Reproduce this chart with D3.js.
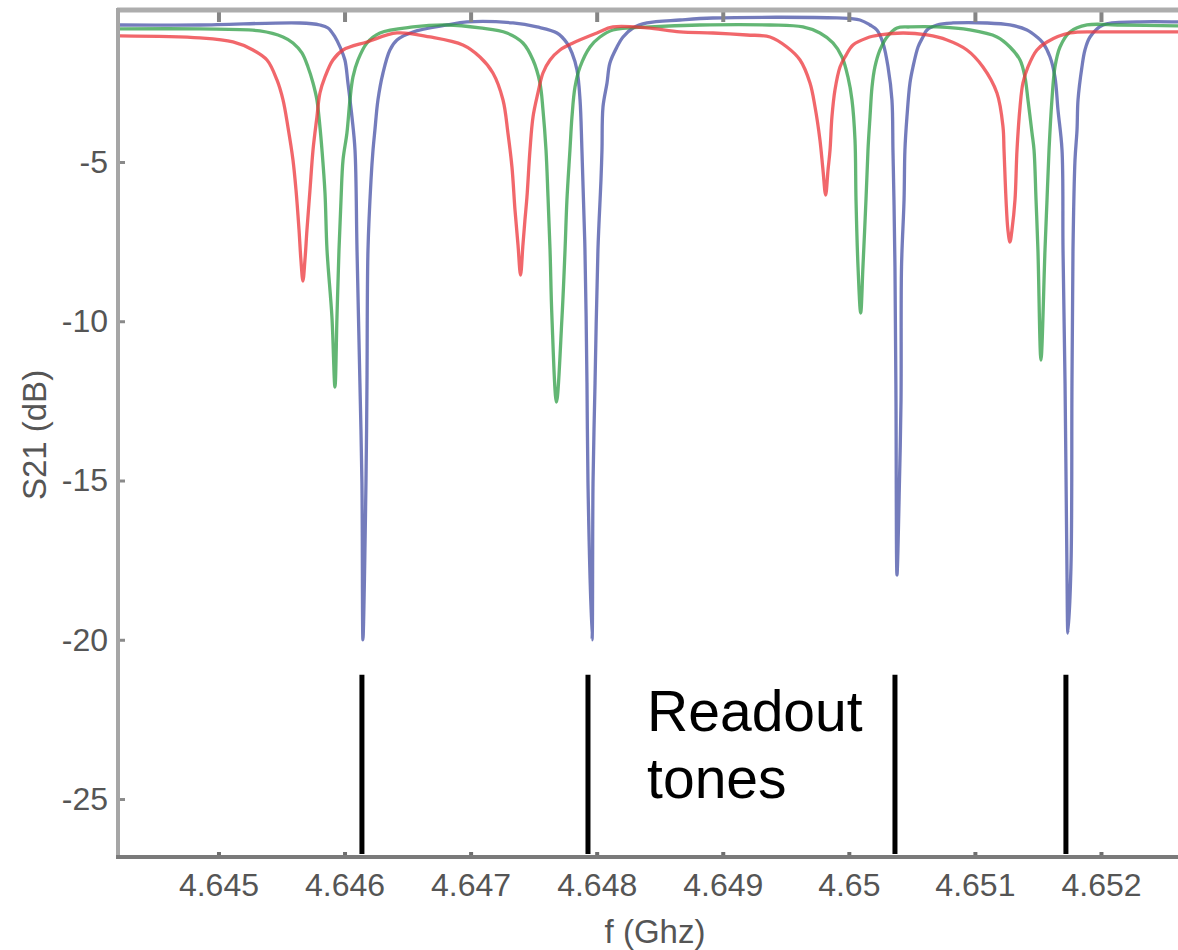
<!DOCTYPE html>
<html>
<head>
<meta charset="utf-8">
<script src="https://cdn.jsdelivr.net/npm/d3@7"></script>
<style>
body { margin: 0; background: #fff; }
svg text { font-family: "Liberation Sans", Arial, Helvetica, sans-serif; }
</style>
</head>
<body>
<div id="graph"></div>
<script>
// axis ticks
var xTicks = [4.645, 4.646, 4.647, 4.648, 4.649, 4.650, 4.651, 4.652];
var xTickLabels = ["4.645", "4.646", "4.647", "4.648", "4.649", "4.65", "4.651", "4.652"];
var yTicks = [-5, -10, -15, -20, -25];
var yTickLabels = ["-5", "-10", "-15", "-20", "-25"];

// S21 traces: [f (GHz), S21 (dB)]
var redTrace = [
  [4.644219, -1.044], [4.644853, -1.107], [4.645115, -1.232], [4.645274, -1.484], [4.645385, -1.798],
  [4.645464, -2.425], [4.645512, -3.053], [4.645551, -3.901], [4.645591, -4.937], [4.645615, -5.879],
  [4.645639, -7.135], [4.645654, -8.077], [4.645670, -8.736], [4.645686, -8.077], [4.645702, -7.135],
  [4.645726, -5.879], [4.645750, -4.623], [4.645781, -3.587], [4.645805, -2.834], [4.645845, -2.331],
  [4.645908, -1.798], [4.645988, -1.484], [4.646178, -1.232], [4.646416, -0.950], [4.646678, -1.075],
  [4.646939, -1.327], [4.647074, -1.703], [4.647177, -2.206], [4.647257, -3.053], [4.647296, -4.089],
  [4.647328, -5.157], [4.647352, -6.507], [4.647376, -7.606], [4.647396, -8.548], [4.647415, -7.606],
  [4.647431, -6.821], [4.647447, -6.099], [4.647471, -4.623], [4.647495, -3.587], [4.647534, -2.834],
  [4.647574, -2.206], [4.647630, -1.798], [4.647709, -1.484], [4.647812, -1.264], [4.648002, -0.950],
  [4.648129, -0.761], [4.648399, -0.793], [4.648661, -0.918], [4.648922, -0.950], [4.649192, -1.013],
  [4.649375, -1.075], [4.649509, -1.389], [4.649613, -1.798], [4.649692, -2.520], [4.649732, -3.273],
  [4.649771, -4.309], [4.649795, -5.251], [4.649816, -6.036], [4.649835, -5.251], [4.649851, -4.623],
  [4.649866, -3.587], [4.649890, -2.739], [4.649930, -2.017], [4.649970, -1.703], [4.650033, -1.327],
  [4.650144, -1.107], [4.650247, -1.013], [4.650430, -0.950], [4.650620, -1.013], [4.650779, -1.170],
  [4.650937, -1.484], [4.651064, -2.017], [4.651175, -2.834], [4.651223, -3.901], [4.651231, -4.623],
  [4.651247, -6.193], [4.651262, -7.135], [4.651278, -7.512], [4.651294, -7.135], [4.651318, -6.193],
  [4.651334, -4.623], [4.651358, -3.273], [4.651381, -2.520], [4.651421, -2.017], [4.651492, -1.484],
  [4.651572, -1.232], [4.651754, -0.950], [4.652016, -0.918], [4.652286, -0.918], [4.652611, -0.918]
];

var greenTrace = [
  [4.644219, -0.824], [4.644853, -0.824], [4.645329, -0.887], [4.645512, -1.075], [4.645591, -1.264],
  [4.645662, -1.578], [4.645710, -2.017], [4.645750, -2.520], [4.645781, -3.053], [4.645805, -3.901],
  [4.645821, -4.623], [4.645845, -5.973], [4.645861, -7.763], [4.645900, -9.866], [4.645924, -12.065],
  [4.645940, -9.866], [4.645956, -7.763], [4.645972, -6.193], [4.645988, -4.937], [4.646019, -4.089],
  [4.646043, -3.053], [4.646067, -2.331], [4.646107, -1.798], [4.646178, -1.264], [4.646281, -0.950],
  [4.646543, -0.761], [4.646813, -0.699], [4.647074, -0.793], [4.647288, -0.950], [4.647415, -1.264],
  [4.647495, -1.798], [4.647550, -2.520], [4.647574, -3.367], [4.647598, -4.623], [4.647614, -6.099],
  [4.647630, -7.763], [4.647645, -9.866], [4.647681, -12.535], [4.647725, -9.866], [4.647749, -7.763],
  [4.647764, -6.193], [4.647788, -4.623], [4.647804, -3.587], [4.647828, -2.645], [4.647868, -2.017],
  [4.647947, -1.389], [4.648026, -1.075], [4.648129, -0.856], [4.648423, -0.761], [4.648819, -0.699],
  [4.649375, -0.699], [4.649636, -0.761], [4.649771, -0.950], [4.649874, -1.264], [4.649946, -1.703],
  [4.649993, -2.331], [4.650025, -3.053], [4.650049, -4.309], [4.650057, -6.193], [4.650073, -8.297],
  [4.650094, -9.741], [4.650112, -8.297], [4.650136, -6.193], [4.650152, -4.623], [4.650168, -3.587],
  [4.650184, -2.645], [4.650207, -2.017], [4.650247, -1.484], [4.650303, -1.075], [4.650382, -0.793],
  [4.650485, -0.761], [4.650699, -0.761], [4.650961, -0.856], [4.651175, -1.075], [4.651278, -1.389],
  [4.651358, -1.798], [4.651397, -2.331], [4.651421, -3.053], [4.651453, -4.089], [4.651469, -4.623],
  [4.651485, -6.193], [4.651500, -7.763], [4.651524, -11.217], [4.651556, -7.763], [4.651572, -6.193],
  [4.651588, -4.623], [4.651611, -3.053], [4.651635, -2.017], [4.651675, -1.389], [4.651754, -0.918],
  [4.651889, -0.699], [4.652151, -0.699], [4.652611, -0.730]
];

var blueTrace = [
  [4.644219, -0.699], [4.644853, -0.699], [4.645647, -0.636], [4.645805, -0.699], [4.645869, -0.793],
  [4.645924, -1.075], [4.645964, -1.389], [4.646003, -1.798], [4.646027, -2.520], [4.646059, -3.587],
  [4.646083, -4.623], [4.646099, -7.763], [4.646122, -11.939], [4.646138, -15.078], [4.646146, -20.0],
  [4.646170, -15.078], [4.646178, -11.939], [4.646186, -7.763], [4.646210, -5.565], [4.646226, -4.623],
  [4.646241, -3.995], [4.646265, -3.053], [4.646305, -2.206], [4.646360, -1.484], [4.646416, -1.170],
  [4.646543, -0.918], [4.646813, -0.699], [4.646971, -0.604], [4.647336, -0.636], [4.647526, -0.761],
  [4.647685, -0.950], [4.647764, -1.264], [4.647804, -1.578], [4.647844, -2.112], [4.647868, -3.053],
  [4.647883, -4.623], [4.647907, -7.763], [4.647923, -11.939], [4.647931, -15.078], [4.647963, -20.0],
  [4.647971, -15.078], [4.647987, -11.939], [4.648010, -7.763], [4.648034, -5.565], [4.648042, -4.623],
  [4.648050, -3.273], [4.648082, -2.520], [4.648105, -1.892], [4.648161, -1.389], [4.648209, -1.075],
  [4.648288, -0.793], [4.648399, -0.636], [4.648661, -0.542], [4.648922, -0.479], [4.649906, -0.479],
  [4.650088, -0.542], [4.650168, -0.699], [4.650223, -0.856], [4.650271, -1.264], [4.650311, -2.017],
  [4.650342, -3.053], [4.650350, -4.623], [4.650358, -6.193], [4.650366, -8.297], [4.650374, -12.473],
  [4.650382, -17.967], [4.650402, -14.984], [4.650414, -12.473], [4.650418, -8.297], [4.650438, -6.193],
  [4.650445, -4.623], [4.650461, -3.587], [4.650485, -2.520], [4.650509, -2.017], [4.650549, -1.389],
  [4.650588, -1.075], [4.650620, -0.856], [4.650699, -0.699], [4.650826, -0.636], [4.651096, -0.636],
  [4.651278, -0.699], [4.651413, -0.856], [4.651492, -1.075], [4.651540, -1.264], [4.651596, -1.703],
  [4.651635, -2.331], [4.651659, -3.367], [4.651691, -4.623], [4.651699, -7.763], [4.651715, -11.939],
  [4.651730, -17.716], [4.651738, -19.788], [4.651762, -17.716], [4.651770, -11.939], [4.651778, -7.763],
  [4.651794, -4.937], [4.651810, -3.995], [4.651818, -3.053], [4.651849, -2.017], [4.651873, -1.484],
  [4.651913, -1.075], [4.652016, -0.699], [4.652286, -0.604], [4.652611, -0.604]
];

// readout tone markers (GHz) and the level where they start
var readoutTones = [4.646138, 4.647931, 4.650366, 4.651722];
var toneTop = -21.1;

var W = 1178, H = 950;
var plot = {left: 120, right: 1178, top: 11, bottom: 857};

var svg = d3.select('#graph').html('')
    .append("svg")
    .attr("width", W)
    .attr("height", H);

var x = d3.scaleLinear()
    .domain([4.644219, 4.652611])
    .range([plot.left, plot.right]);
var y = d3.scaleLinear()
    .domain([-26.82, -0.26])
    .range([plot.bottom, plot.top]);

svg.append("clipPath").attr("id", "clip")
    .append("rect")
    .attr("x", plot.left).attr("y", plot.top)
    .attr("width", plot.right - plot.left).attr("height", plot.bottom - plot.top);

// traces
var line = d3.line()
    .x(function (d) { return x(d[0]); })
    .y(function (d) { return y(d[1]); })
    .curve(d3.curveCatmullRom.alpha(0.5));

var traces = [
    {data: blueTrace, color: "#4650a6"},
    {data: greenTrace, color: "#2f9e46"},
    {data: redTrace, color: "#ec3439"}
];

svg.append("g").attr("clip-path", "url(#clip)")
    .selectAll("path")
    .data(traces)
    .enter().append("path")
    .attr("d", function (d) { return line(d.data); })
    .attr("fill", "none")
    .attr("stroke", function (d) { return d.color; })
    .attr("stroke-width", 3.3)
    .attr("stroke-opacity", 0.75)
    .attr("stroke-linejoin", "round");

// readout tones
svg.append("g")
    .selectAll("line")
    .data(readoutTones)
    .enter().append("line")
    .attr("x1", function (d) { return x(d); })
    .attr("x2", function (d) { return x(d); })
    .attr("y1", y(toneTop))
    .attr("y2", plot.bottom - 3)
    .attr("stroke", "#000")
    .attr("stroke-width", 5);

svg.append("text")
    .attr("x", x(4.6484))
    .attr("y", y(-22.87))
    .attr("font-size", 57)
    .attr("fill", "#000")
    .text("Readout");
svg.append("text")
    .attr("x", x(4.6484))
    .attr("y", y(-24.97))
    .attr("font-size", 57)
    .attr("fill", "#000")
    .text("tones");

// axes
var xAxis = svg.append("g")
    .attr("transform", "translate(0," + plot.bottom + ")")
    .call(d3.axisBottom(x)
        .tickValues(xTicks)
        .tickFormat(function (d, i) { return xTickLabels[i]; })
        .tickSizeInner(-5)
        .tickSizeOuter(0)
        .tickPadding(16));

var topTicks = svg.append("g")
    .attr("transform", "translate(0," + plot.top + ")")
    .call(d3.axisTop(x)
        .tickValues(xTicks)
        .tickFormat("")
        .tickSizeInner(-11)
        .tickSizeOuter(0));

var yAxis = svg.append("g")
    .attr("transform", "translate(" + plot.left + ",0)")
    .call(d3.axisLeft(y)
        .tickValues(yTicks)
        .tickFormat(function (d, i) { return yTickLabels[i]; })
        .tickSizeInner(-5)
        .tickSizeOuter(0)
        .tickPadding(12));

svg.selectAll(".domain").remove();
xAxis.selectAll(".tick line").attr("stroke", "#6e6e6e").attr("stroke-width", 4);
topTicks.selectAll(".tick line").attr("stroke", "#858585").attr("stroke-width", 4);
yAxis.selectAll(".tick line").attr("stroke", "#8a8a8a").attr("stroke-width", 3);
svg.selectAll(".tick text")
    .attr("font-size", 32)
    .attr("font-family", "'Liberation Sans', Arial, sans-serif")
    .attr("fill", "#555");

// frame
svg.append("line")
    .attr("x1", plot.left - 3).attr("x2", plot.right)
    .attr("y1", plot.top - 1).attr("y2", plot.top - 1)
    .attr("stroke", "#adadad").attr("stroke-width", 5);
svg.append("line")
    .attr("x1", plot.left - 2).attr("x2", plot.left - 2)
    .attr("y1", plot.top - 3).attr("y2", plot.bottom + 2)
    .attr("stroke", "#a6a6a6").attr("stroke-width", 4);
svg.append("line")
    .attr("x1", plot.left - 4).attr("x2", plot.right)
    .attr("y1", plot.bottom).attr("y2", plot.bottom)
    .attr("stroke", "#7a7a7a").attr("stroke-width", 4);

// axis titles
svg.append("text")
    .attr("x", 655)
    .attr("y", 943)
    .attr("text-anchor", "middle")
    .attr("font-size", 33)
    .attr("fill", "#555")
    .text("f (Ghz)");
svg.append("text")
    .attr("transform", "translate(46,435) rotate(-90)")
    .attr("text-anchor", "middle")
    .attr("font-size", 33)
    .attr("fill", "#555")
    .text("S21 (dB)");
</script>
</body>
</html>
